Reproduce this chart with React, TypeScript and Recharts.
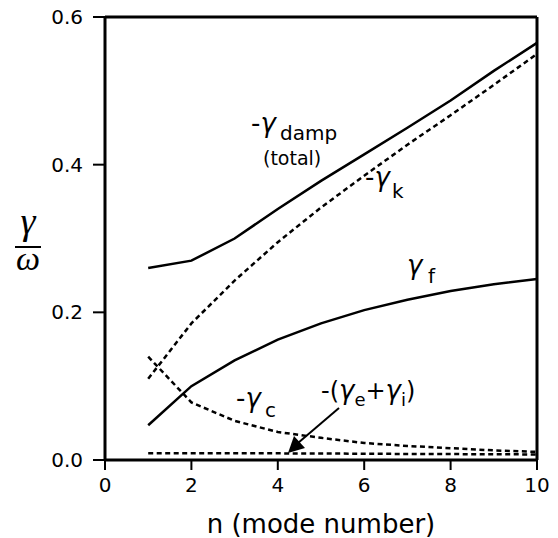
import { LineChart, Line, XAxis, YAxis, ReferenceLine } from "recharts";

// mode number n
const modes = [1, 2, 3, 4, 5, 6, 7, 8, 9, 10];
// -gamma_damp (total)
const dampTotal = [0.26, 0.27, 0.3, 0.34, 0.378, 0.414, 0.45, 0.487, 0.527, 0.565];
// -gamma_k
const gammaK = [0.11, 0.185, 0.243, 0.295, 0.342, 0.385, 0.427, 0.467, 0.508, 0.55];
// gamma_f
const gammaF = [0.047, 0.1, 0.135, 0.163, 0.185, 0.203, 0.217, 0.229, 0.238, 0.245];
// -gamma_c
const gammaC = [0.14, 0.078, 0.053, 0.038, 0.03, 0.023, 0.019, 0.016, 0.013, 0.011];
// -(gamma_e + gamma_i)
const gammaEI = [0.009, 0.009, 0.009, 0.009, 0.0088, 0.0085, 0.0082, 0.008, 0.0078, 0.0075];

const xTicks = [0, 2, 4, 6, 8, 10];
const yTicks = [0, 0.2, 0.4, 0.6];

const data = modes.map((n, i) => ({
  n,
  total: dampTotal[i],
  k: gammaK[i],
  f: gammaF[i],
  c: gammaC[i],
  ei: gammaEI[i],
}));

const font = "DejaVu Sans";
const tickStyle = { fontSize: 20, fill: "#000", fontFamily: font };

export default function App() {
  return (
    <div style={{ position: "absolute", left: 0, top: 0, width: 558, height: 538, background: "#fff" }}>
      <LineChart width={558} height={538} data={data} margin={{ top: 17, right: 21, bottom: 0, left: 0 }}>
        <XAxis
          type="number"
          dataKey="n"
          domain={[0, 10]}
          ticks={xTicks}
          height={78}
          tick={tickStyle}
          tickSize={10}
          tickMargin={8}
          tickLine={{ stroke: "#000", strokeWidth: 2 }}
          axisLine={{ stroke: "#000", strokeWidth: 3 }}
        />
        <YAxis
          type="number"
          domain={[0, 0.6]}
          ticks={yTicks}
          width={105}
          tick={tickStyle}
          tickSize={12}
          tickMargin={10}
          tickFormatter={(v) => v.toFixed(1)}
          tickLine={{ stroke: "#000", strokeWidth: 2 }}
          axisLine={{ stroke: "#000", strokeWidth: 3 }}
        />
        <ReferenceLine y={0.6} stroke="#000" strokeWidth={3} />
        <ReferenceLine x={10} stroke="#000" strokeWidth={3} />
        <Line dataKey="total" type="linear" stroke="#000" strokeWidth={2.5} dot={false} isAnimationActive={false} />
        <Line dataKey="k" type="linear" stroke="#000" strokeWidth={2.5} strokeDasharray="5 3.5" dot={false} isAnimationActive={false} />
        <Line dataKey="f" type="linear" stroke="#000" strokeWidth={2.5} dot={false} isAnimationActive={false} />
        <Line dataKey="c" type="linear" stroke="#000" strokeWidth={2.5} strokeDasharray="5 3.5" dot={false} isAnimationActive={false} />
        <Line dataKey="ei" type="linear" stroke="#000" strokeWidth={2.5} strokeDasharray="5 3.5" dot={false} isAnimationActive={false} />
      </LineChart>

      {/* labels drawn on top of the chart */}
      <svg width={558} height={538} style={{ position: "absolute", left: 0, top: 0, pointerEvents: "none" }} fontFamily={font}>
        {/* y label gamma / omega */}
        <text x={28} y={234} fontSize={38} textAnchor="middle" fontFamily="Liberation Serif" fontStyle="italic">γ</text>
        <line x1={15} x2={41} y1={247} y2={247} stroke="#000" strokeWidth={2} />
        <text x={28} y={270} fontSize={34} textAnchor="middle" fontFamily="Liberation Serif" fontStyle="italic">ω</text>

        <text x={321} y={533} fontSize={26} textAnchor="middle">n (mode number)</text>

        <text x={251} y={132} fontSize={26}>-<tspan fontStyle="italic">γ</tspan></text>
        <text x={280} y={140} fontSize={20}>damp</text>
        <text x={263} y={165} fontSize={19}>(total)</text>

        <text x={365} y={186} fontSize={26}>-<tspan fontStyle="italic">γ</tspan></text>
        <text x={392} y={198} fontSize={20}>k</text>

        <text x={407} y={274} fontSize={26} fontStyle="italic">γ</text>
        <text x={428} y={283} fontSize={20}>f</text>

        <text x={236} y={407} fontSize={26}>-<tspan fontStyle="italic">γ</tspan></text>
        <text x={265} y={417} fontSize={20}>c</text>

        <text x={321} y={399} fontSize={24}>
          -(<tspan fontSize={26} fontStyle="italic">γ</tspan>
          <tspan fontSize={18} dy={7}>e</tspan>
          <tspan dy={-7}>+</tspan>
          <tspan fontSize={26} fontStyle="italic">γ</tspan>
          <tspan fontSize={18} dy={7}>i</tspan>
          <tspan dy={-7}>)</tspan>
        </text>

        <line x1={339} y1={408} x2={298} y2={443} stroke="#000" strokeWidth={2} />
        <polygon points="288,453 294,436 305,448" fill="#000" />
      </svg>
    </div>
  );
}
